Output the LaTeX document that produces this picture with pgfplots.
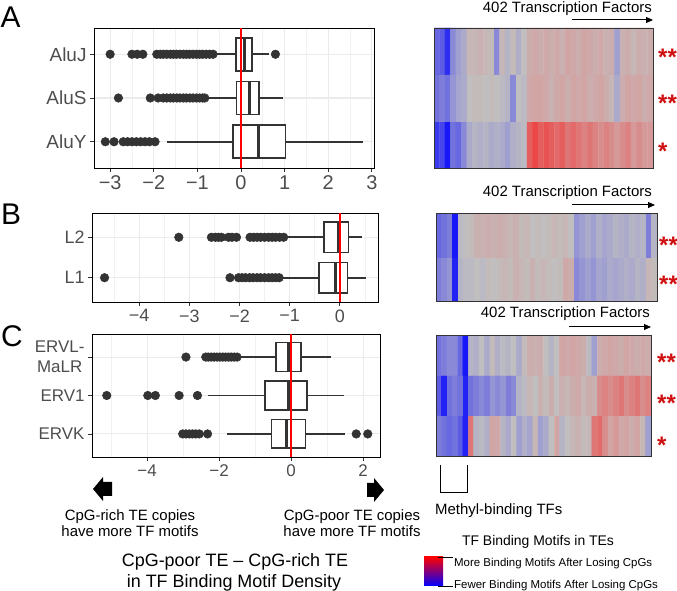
\documentclass[border=0pt]{standalone}
\usepackage{pgfplots}
\pgfplotsset{compat=1.18}
\usepgfplotslibrary{statistics}
\usetikzlibrary{arrows.meta}
\usepackage{fontspec}
\setmainfont{Liberation Sans}
\definecolor{gline}{HTML}{333333}
\definecolor{gridc}{HTML}{EBEBEB}
\definecolor{tickc}{HTML}{4D4D4D}
\definecolor{starred}{HTML}{D01010}
\definecolor{hgray}{RGB}{190,190,190}
\pgfplotsset{
  bxax/.style={scale only axis, anchor=south west,
    axis line style={black, line width=0.9bp},
    xmajorgrids, ymajorgrids, xminorgrids,
    major grid style={gridc, line width=1.1bp},
    minor grid style={gridc!70!white, line width=0.6bp},
    tick align=outside, major tick length=4bp, minor tick length=0pt,
    tick style={gline, line width=0.8bp},
    ticklabel style={text=tickc},
    tick pos=left,
    boxplot/draw direction=x},
  bx/.style={solid, draw=gline, line width=1.8bp, fill=white, mark=*, mark size=4.3bp,
    mark options={draw=gline, fill=gline, line width=0.5bp},
    boxplot/every box/.style={draw=gline, line width=1.7bp, fill=white},
    boxplot/every whisker/.append style={draw=gline, line width=1.8bp},
    boxplot/every median/.style={draw=gline, line width=2.9bp},
    boxplot/whisker extend=0, boxplot/box extend=0.75},
  hmax/.style={scale only axis, anchor=south west, xmin=-0.5, xmax=39.5,
    xtick=\empty, ytick=\empty,
    colormap={rwb}{rgb255(0)=(0,0,255) rgb255(7)=(160,160,208) rgb255(10)=(192,190,190) rgb255(13)=(210,165,165) rgb255(20)=(255,0,0)},
    point meta min=-1, point meta max=1,
    axis line style={gline, line width=0.9bp}, axis on top},
}
\begin{document}
\begin{tikzpicture}
\useasboundingbox (0,0) rectangle (677bp,591bp);
% ---------------- Panel A boxplots
\begin{axis}[bxax, at={(94bp,423bp)}, width=280bp, height=140bp,
  xmin=-3.37, xmax=3.05, ymin=0.4, ymax=3.6,
  xtick={-3,-2,-1,0,1,2,3}, xticklabels={−3,−2,−1,0,1,2,3},
  minor xtick={-2.5,-1.5,-0.5,0.5,1.5,2.5},
  ytick={1,2,3}, yticklabels={AluY,AluS,AluJ},
  xticklabel style={font=\fontsize{20}{22}\selectfont},
  yticklabel style={font=\fontsize{19}{21}\selectfont}]
\addplot[bx, boxplot prepared={draw position=3, lower whisker=-0.55, lower quartile=-0.11, median=0.08, upper quartile=0.25, upper whisker=0.65}]
 coordinates {(0,-3.0) (0,-2.5) (0,-2.38) (0,-2.25) (0,-1.93) (0,-1.85) (0,-1.78) (0,-1.7) (0,-1.62) (0,-1.55) (0,-1.48) (0,-1.4) (0,-1.32) (0,-1.25) (0,-1.18) (0,-1.1) (0,-1.02) (0,-0.95) (0,-0.88) (0,-0.8) (0,-0.72) (0,-0.64) (0,0.79)};
\addplot[bx, boxplot prepared={draw position=2, lower whisker=-0.76, lower quartile=-0.1, median=0.2, upper quartile=0.42, upper whisker=0.97}]
 coordinates {(0,-2.81) (0,-2.08) (0,-1.9) (0,-1.78) (0,-1.7) (0,-1.62) (0,-1.55) (0,-1.47) (0,-1.4) (0,-1.32) (0,-1.25) (0,-1.17) (0,-1.1) (0,-1.02) (0,-0.95) (0,-0.88) (0,-0.83)};
\addplot[bx, boxplot prepared={draw position=1, lower whisker=-1.7, lower quartile=-0.19, median=0.41, upper quartile=1.02, upper whisker=2.79}]
 coordinates {(0,-3.11) (0,-2.91) (0,-2.7) (0,-2.6) (0,-2.5) (0,-2.4) (0,-2.3) (0,-2.2) (0,-2.1) (0,-1.97)};
\addplot[red, line width=2bp] coordinates {(0,0.4) (0,3.6)};
\end{axis}
% ---------------- Panel B boxplots
\begin{axis}[bxax, at={(92bp,289bp)}, width=286bp, height=89bp,
  xmin=-4.94, xmax=0.76, ymin=0.4, ymax=2.6,
  xtick={-4,-3,-2,-1,0}, xticklabels={−4,−3,−2,−1,0},
  minor xtick={-4.5,-3.5,-2.5,-1.5,-0.5,0.5},
  ytick={1,2}, yticklabels={L1,L2},
  xticklabel style={font=\fontsize{18}{20}\selectfont},
  yticklabel style={font=\fontsize{18}{20}\selectfont}]
\addplot[bx, boxplot prepared={draw position=2, lower whisker=-1.06, lower quartile=-0.31, median=-0.02, upper quartile=0.17, upper whisker=0.44}]
 coordinates {(0,-3.21) (0,-2.56) (0,-2.48) (0,-2.42) (0,-2.36) (0,-2.22) (0,-2.15) (0,-2.06) (0,-1.79) (0,-1.72) (0,-1.65) (0,-1.58) (0,-1.5) (0,-1.42) (0,-1.35) (0,-1.28) (0,-1.2) (0,-1.12)};
\addplot[bx, boxplot prepared={draw position=1, lower whisker=-1.16, lower quartile=-0.41, median=-0.09, upper quartile=0.15, upper whisker=0.53}]
 coordinates {(0,-4.69) (0,-2.19) (0,-2.02) (0,-1.95) (0,-1.88) (0,-1.8) (0,-1.73) (0,-1.65) (0,-1.58) (0,-1.5) (0,-1.42) (0,-1.35) (0,-1.28) (0,-1.21)};
\addplot[red, line width=2bp] coordinates {(0,0.4) (0,2.6)};
\end{axis}
% ---------------- Panel C boxplots
\begin{axis}[bxax, at={(92bp,134bp)}, width=288bp, height=123bp,
  xmin=-5.53, xmax=2.47, ymin=0.4, ymax=3.6,
  xtick={-4,-2,0,2}, xticklabels={−4,−2,0,2},
  minor xtick={-5,-3,-1,1},
  ytick={1,2,3}, yticklabels={ERVK,ERV1,{ERVL-\\MaLR}},
  xticklabel style={font=\fontsize{17}{19}\selectfont},
  yticklabel style={font=\fontsize{17}{20}\selectfont, align=center}]
\addplot[bx, boxplot prepared={draw position=3, lower whisker=-1.42, lower quartile=-0.41, median=-0.06, upper quartile=0.28, upper whisker=1.12}]
 coordinates {(0,-2.92) (0,-2.37) (0,-2.3) (0,-2.22) (0,-2.14) (0,-2.06) (0,-1.98) (0,-1.9) (0,-1.82) (0,-1.74) (0,-1.66) (0,-1.58) (0,-1.5)};
\addplot[bx, boxplot prepared={draw position=2, lower whisker=-2.32, lower quartile=-0.73, median=-0.06, upper quartile=0.44, upper whisker=1.48}]
 coordinates {(0,-5.12) (0,-3.98) (0,-3.77) (0,-3.11) (0,-2.6)};
\addplot[bx, boxplot prepared={draw position=1, lower whisker=-1.77, lower quartile=-0.54, median=-0.13, upper quartile=0.40, upper whisker=1.5}]
 coordinates {(0,-3.01) (0,-2.92) (0,-2.83) (0,-2.74) (0,-2.65) (0,-2.55) (0,-2.32) (0,1.81) (0,2.13)};
\addplot[red, line width=2bp] coordinates {(0,0.4) (0,3.6)};
\end{axis}
% ---------------- Heatmap A
\begin{axis}[hmax, at={(434bp,423bp)}, width=219bp, height=140bp, ymin=-0.5, ymax=2.5]
\addplot[matrix plot*, mesh/cols=40, point meta=explicit] coordinates {
(0,0)[-0.75] (1,0)[-0.7] (2,0)[-0.9] (3,0)[-0.5] (4,0)[-0.55] (5,0)[-0.4] (6,0)[-0.2] (7,0)[-0.1] (8,0)[-0.15] (9,0)[-0.1] (10,0)[-0.2] (11,0)[-0.15] (12,0)[-0.2] (13,0)[-0.3] (14,0)[-0.15] (15,0)[-0.1] (16,0)[-0.05] (17,0)[0.6] (18,0)[0.7] (19,0)[0.6] (20,0)[0.65] (21,0)[0.6] (22,0)[0.55] (23,0)[0.6] (24,0)[0.5] (25,0)[0.55] (26,0)[0.5] (27,0)[0.45] (28,0)[0.5] (29,0)[0.45] (30,0)[0.4] (31,0)[0.45] (32,0)[0.4] (33,0)[0.35] (34,0)[0.4] (35,0)[0.45] (36,0)[0.35] (37,0)[0.4] (38,0)[0.35] (39,0)[0.35]
(0,1)[-0.5] (1,1)[-0.45] (2,1)[-0.5] (3,1)[-0.35] (4,1)[-0.25] (5,1)[-0.2] (6,1)[0.0] (7,1)[0.05] (8,1)[0.05] (9,1)[0.0] (10,1)[0.05] (11,1)[0.0] (12,1)[-0.05] (13,1)[-0.1] (14,1)[-0.4] (15,1)[0.0] (16,1)[-0.05] (17,1)[0.25] (18,1)[0.3] (19,1)[0.3] (20,1)[0.25] (21,1)[0.15] (22,1)[0.25] (23,1)[0.3] (24,1)[0.2] (25,1)[0.3] (26,1)[0.25] (27,1)[0.3] (28,1)[0.2] (29,1)[0.25] (30,1)[0.3] (31,1)[0.2] (32,1)[0.1] (33,1)[-0.2] (34,1)[0.2] (35,1)[0.3] (36,1)[0.25] (37,1)[0.3] (38,1)[0.2] (39,1)[0.25]
(0,2)[-0.55] (1,2)[-0.6] (2,2)[-0.8] (3,2)[-0.4] (4,2)[-0.3] (5,2)[-0.2] (6,2)[0.1] (7,2)[0.1] (8,2)[0.15] (9,2)[0.1] (10,2)[0.05] (11,2)[-0.4] (12,2)[0.1] (13,2)[-0.1] (14,2)[0.05] (15,2)[-0.15] (16,2)[0.0] (17,2)[0.2] (18,2)[0.25] (19,2)[0.2] (20,2)[0.25] (21,2)[0.2] (22,2)[0.25] (23,2)[0.15] (24,2)[0.3] (25,2)[0.25] (26,2)[0.2] (27,2)[0.3] (28,2)[0.25] (29,2)[0.2] (30,2)[0.25] (31,2)[0.15] (32,2)[0.2] (33,2)[-0.3] (34,2)[0.15] (35,2)[0.2] (36,2)[0.1] (37,2)[0.2] (38,2)[0.15] (39,2)[0.2]
};
\end{axis}
% ---------------- Heatmap B
\begin{axis}[hmax, at={(436bp,290bp)}, width=221bp, height=88bp, ymin=-0.5, ymax=1.5]
\addplot[matrix plot*, mesh/cols=40, point meta=explicit] coordinates {
(0,0)[-0.45] (1,0)[-0.4] (2,0)[-0.35] (3,0)[-0.85] (4,0)[-0.1] (5,0)[-0.05] (6,0)[-0.05] (7,0)[0.0] (8,0)[-0.05] (9,0)[0.05] (10,0)[0.0] (11,0)[0.05] (12,0)[0.1] (13,0)[0.05] (14,0)[0.15] (15,0)[0.1] (16,0)[0.05] (17,0)[0.15] (18,0)[0.05] (19,0)[0.1] (20,0)[0.05] (21,0)[0.0] (22,0)[0.05] (23,0)[0.25] (24,0)[0.2] (25,0)[-0.4] (26,0)[-0.35] (27,0)[-0.3] (28,0)[-0.35] (29,0)[-0.25] (30,0)[-0.3] (31,0)[-0.2] (32,0)[-0.25] (33,0)[-0.2] (34,0)[-0.15] (35,0)[-0.2] (36,0)[-0.1] (37,0)[-0.15] (38,0)[0.1] (39,0)[0.05]
(0,1)[-0.55] (1,1)[-0.5] (2,1)[-0.45] (3,1)[-0.9] (4,1)[-0.05] (5,1)[0.0] (6,1)[0.05] (7,1)[0.15] (8,1)[0.15] (9,1)[0.2] (10,1)[0.15] (11,1)[0.2] (12,1)[0.15] (13,1)[0.1] (14,1)[0.15] (15,1)[0.05] (16,1)[0.1] (17,1)[0.0] (18,1)[0.05] (19,1)[0.0] (20,1)[0.05] (21,1)[0.1] (22,1)[0.05] (23,1)[0.1] (24,1)[0.0] (25,1)[-0.35] (26,1)[-0.3] (27,1)[-0.2] (28,1)[-0.3] (29,1)[-0.15] (30,1)[-0.25] (31,1)[-0.2] (32,1)[-0.1] (33,1)[-0.15] (34,1)[-0.2] (35,1)[-0.1] (36,1)[-0.15] (37,1)[-0.1] (38,1)[-0.45] (39,1)[-0.1]
};
\end{axis}
% ---------------- Heatmap C
\begin{axis}[hmax, at={(436bp,135bp)}, width=215bp, height=121bp, ymin=-0.5, ymax=2.5]
\addplot[matrix plot*, mesh/cols=40, point meta=explicit] coordinates {
(0,0)[-0.45] (1,0)[-0.5] (2,0)[-0.55] (3,0)[-0.5] (4,0)[-0.6] (5,0)[-0.85] (6,0)[0.5] (7,0)[-0.1] (8,0)[-0.05] (9,0)[-0.15] (10,0)[0.3] (11,0)[0.25] (12,0)[-0.1] (13,0)[-0.2] (14,0)[0.0] (15,0)[-0.3] (16,0)[-0.15] (17,0)[-0.25] (18,0)[0.1] (19,0)[-0.3] (20,0)[-0.2] (21,0)[0.0] (22,0)[0.3] (23,0)[-0.1] (24,0)[0.0] (25,0)[0.1] (26,0)[0.15] (27,0)[0.05] (28,0)[0.1] (29,0)[0.5] (30,0)[0.55] (31,0)[0.4] (32,0)[0.3] (33,0)[0.35] (34,0)[0.25] (35,0)[0.3] (36,0)[0.2] (37,0)[0.3] (38,0)[0.1] (39,0)[-0.3]
(0,1)[-0.6] (1,1)[-0.85] (2,1)[-0.5] (3,1)[-0.45] (4,1)[-0.5] (5,1)[-0.85] (6,1)[-0.5] (7,1)[-0.45] (8,1)[-0.4] (9,1)[-0.45] (10,1)[-0.35] (11,1)[-0.4] (12,1)[-0.35] (13,1)[-0.45] (14,1)[-0.4] (15,1)[-0.1] (16,1)[-0.05] (17,1)[0.1] (18,1)[0.0] (19,1)[0.15] (20,1)[0.05] (21,1)[0.2] (22,1)[0.0] (23,1)[0.15] (24,1)[0.1] (25,1)[0.2] (26,1)[0.25] (27,1)[0.1] (28,1)[0.2] (29,1)[0.15] (30,1)[0.4] (31,1)[0.45] (32,1)[0.4] (33,1)[0.45] (34,1)[0.5] (35,1)[0.4] (36,1)[0.45] (37,1)[0.5] (38,1)[0.4] (39,1)[0.45]
(0,2)[-0.5] (1,2)[-0.45] (2,2)[-0.4] (3,2)[-0.4] (4,2)[-0.55] (5,2)[-0.9] (6,2)[-0.1] (7,2)[-0.15] (8,2)[0.0] (9,2)[-0.2] (10,2)[0.05] (11,2)[-0.15] (12,2)[-0.05] (13,2)[-0.1] (14,2)[0.0] (15,2)[-0.2] (16,2)[0.05] (17,2)[0.2] (18,2)[0.15] (19,2)[0.2] (20,2)[0.0] (21,2)[-0.1] (22,2)[0.0] (23,2)[0.3] (24,2)[0.25] (25,2)[0.3] (26,2)[0.25] (27,2)[0.2] (28,2)[-0.05] (29,2)[-0.3] (30,2)[0.2] (31,2)[0.25] (32,2)[0.3] (33,2)[0.25] (34,2)[0.2] (35,2)[0.3] (36,2)[0.25] (37,2)[0.2] (38,2)[0.25] (39,2)[0.2]
};
\end{axis}
% ---------------- Annotations
\node[anchor=base west, inner sep=0, font=\fontsize{30}{30}\selectfont] at (0.5bp,563bp) {A};
\node[anchor=base west, inner sep=0, font=\fontsize{30}{30}\selectfont] at (1bp,366bp) {B};
\node[anchor=base west, inner sep=0, font=\fontsize{30}{30}\selectfont] at (1bp,244bp) {C};
\begin{scope}[font=\fontsize{15}{17}\selectfont]
\node[anchor=base east, inner sep=0] at (652bp,578bp) {402 Transcription Factors};
\node[anchor=base east, inner sep=0] at (652bp,394bp) {402 Transcription Factors};
\node[anchor=base east, inner sep=0] at (650bp,273bp) {402 Transcription Factors};
\end{scope}
\draw[-{Triangle[length=7bp,width=6bp]}, line width=1bp] (572bp,571bp) -- (653bp,571bp);
\draw[-{Triangle[length=7bp,width=6bp]}, line width=1bp] (572bp,386bp) -- (655bp,386bp);
\draw[-{Triangle[length=7bp,width=6bp]}, line width=1bp] (569bp,264bp) -- (651bp,264bp);
\begin{scope}[font=\fontsize{24}{24}\selectfont\bfseries, text=starred]
\node[anchor=base west, inner sep=0] at (658bp,525bp) {**};
\node[anchor=base west, inner sep=0] at (658bp,479bp) {**};
\node[anchor=base west, inner sep=0] at (658bp,431bp) {*};
\node[anchor=base west, inner sep=0] at (659bp,337bp) {**};
\node[anchor=base west, inner sep=0] at (659bp,298bp) {**};
\node[anchor=base west, inner sep=0] at (657bp,220bp) {**};
\node[anchor=base west, inner sep=0] at (657bp,179bp) {**};
\node[anchor=base west, inner sep=0] at (657bp,137bp) {*};
\end{scope}
% block arrows
\fill[black] (93bp,102bp) -- (103bp,114bp) -- (103bp,109bp) -- (112bp,109bp) -- (112bp,95bp) -- (103bp,95bp) -- (103bp,90bp) -- cycle;
\fill[black] (384bp,101bp) -- (374bp,113bp) -- (374bp,108bp) -- (367bp,108bp) -- (367bp,94bp) -- (374bp,94bp) -- (374bp,89bp) -- cycle;
\begin{scope}[font=\fontsize{15}{17}\selectfont]
\node[anchor=base, inner sep=0] at (130bp,70bp) {CpG-rich TE copies};
\node[anchor=base, inner sep=0] at (130bp,54bp) {have more TF motifs};
\node[anchor=base, inner sep=0] at (352bp,70bp) {CpG-poor TE copies};
\node[anchor=base, inner sep=0] at (352bp,54bp) {have more TF motifs};
\node[anchor=base west, inner sep=0] at (435bp,76bp) {Methyl-binding TFs};
\end{scope}
\begin{scope}[font=\fontsize{18}{20}\selectfont]
\node[anchor=base, inner sep=0] at (235bp,25bp) {CpG-poor TE – CpG-rich TE};
\node[anchor=base, inner sep=0] at (234bp,4bp) {in TF Binding Motif Density};
\end{scope}
\draw[line width=1bp] (440bp,126bp) -- (440bp,98bp) -- (467bp,98bp) -- (467bp,126bp);
\node[anchor=base, inner sep=0, font=\fontsize{14}{16}\selectfont] at (538bp,45bp) {TF Binding Motifs in TEs};
\shade[top color=red, middle color=hgray, bottom color=blue] (424bp,5bp) rectangle (443bp,34bp);
\draw[line width=0.7bp] (438bp,34bp) -- (453bp,34bp);
\draw[line width=0.7bp] (438bp,5bp) -- (453bp,5bp);
\begin{scope}[font=\fontsize{11.5}{13}\selectfont]
\node[anchor=base west, inner sep=0] at (454bp,25bp) {More Binding Motifs After Losing CpGs};
\node[anchor=base west, inner sep=0] at (454bp,3bp) {Fewer Binding Motifs After Losing CpGs};
\end{scope}
\end{tikzpicture}
\end{document}
